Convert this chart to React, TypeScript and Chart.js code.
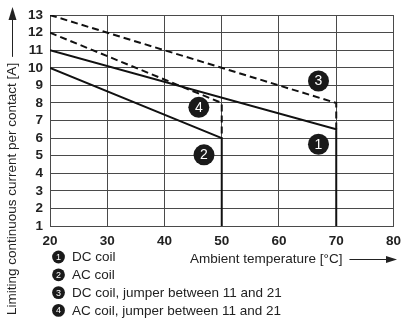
import React, { useEffect, useRef } from 'react';
import { Chart, registerables } from 'chart.js';

Chart.register(...registerables);

const xTickValues = [20, 30, 40, 50, 60, 70, 80];
const yTickValues = [1, 2, 3, 4, 5, 6, 7, 8, 9, 10, 11, 12, 13];

// Curve 1: DC coil
const dcCoilX = [20, 70, 70];
const dcCoilY = [11, 6.5, 1];
// Curve 2: AC coil
const acCoilX = [20, 50, 50];
const acCoilY = [10, 6, 1];
// Curve 3: DC coil, jumper
const dcJumperX = [20, 70, 70];
const dcJumperY = [13, 8, 6.5];
// Curve 4: AC coil, jumper
const acJumperX = [20, 50, 50];
const acJumperY = [12, 8, 6];

const badgeNumbers = ['1', '2', '3', '4'];
const badgeX = [66.9, 46.9, 66.9, 46.0];
const badgeY = [5.65, 5.05, 9.25, 7.75];

const legendLabels = [
  'DC coil',
  'AC coil',
  'DC coil, jumper between 11 and 21',
  'AC coil, jumper between 11 and 21',
];

const xTitle = 'Ambient temperature [°C]';
const yTitle = 'Limiting continuous current per contact [A]';

const FONT = '"Liberation Sans", Arial, Helvetica, sans-serif';

const pts = (xs: number[], ys: number[]) => xs.map((x, i) => ({ x, y: ys[i] }));

function drawBadge(ctx: CanvasRenderingContext2D, cx: number, cy: number, r: number, label: string, fontPx: number) {
  ctx.save();
  ctx.beginPath();
  ctx.arc(cx, cy, r, 0, Math.PI * 2);
  ctx.fillStyle = '#1a1a1a';
  ctx.fill();
  ctx.fillStyle = '#ffffff';
  ctx.font = `${fontPx}px ${FONT}`;
  ctx.textAlign = 'center';
  ctx.textBaseline = 'middle';
  ctx.fillText(label, cx, cy + 0.5);
  ctx.restore();
}

const decorPlugin = {
  id: 'decor',
  afterDraw(chart: any) {
    const ctx: CanvasRenderingContext2D = chart.ctx;
    const xs = chart.scales.x;
    const ys = chart.scales.y;
    badgeNumbers.forEach((n, i) => {
      drawBadge(ctx, xs.getPixelForValue(badgeX[i]), ys.getPixelForValue(badgeY[i]), 10.5, n, 14);
    });

    ctx.save();
    ctx.fillStyle = '#222';
    ctx.strokeStyle = '#222';
    ctx.font = `13.5px ${FONT}`;
    ctx.textBaseline = 'middle';

    // x title + arrow
    const xtX = 190;
    const xtY = 259;
    ctx.textAlign = 'left';
    ctx.fillText(xTitle, xtX, xtY);
    const xw = ctx.measureText(xTitle).width;
    ctx.lineWidth = 1;
    ctx.beginPath();
    ctx.moveTo(xtX + xw + 7, xtY + 0.5);
    ctx.lineTo(388, xtY + 0.5);
    ctx.stroke();
    ctx.beginPath();
    ctx.moveTo(397, xtY + 0.5);
    ctx.lineTo(386, xtY - 3);
    ctx.lineTo(386, xtY + 4);
    ctx.closePath();
    ctx.fill();

    // y title + arrow
    const ytX = 12;
    const ytY = 315;
    ctx.save();
    ctx.translate(ytX, ytY);
    ctx.rotate(-Math.PI / 2);
    ctx.textAlign = 'left';
    ctx.fillText(yTitle, 0, 0);
    ctx.restore();
    const yw = ctx.measureText(yTitle).width;
    ctx.beginPath();
    ctx.moveTo(ytX + 0.5, ytY - yw - 6);
    ctx.lineTo(ytX + 0.5, 18);
    ctx.stroke();
    ctx.beginPath();
    ctx.moveTo(ytX + 0.5, 7);
    ctx.lineTo(ytX - 3.5, 20);
    ctx.lineTo(ytX + 4.5, 20);
    ctx.closePath();
    ctx.fill();

    // legend
    legendLabels.forEach((t, i) => {
      const cy = 257 + i * 17.8;
      drawBadge(ctx, 58.5, cy, 6.4, badgeNumbers[i], 9);
      ctx.fillStyle = '#222';
      ctx.font = `13.5px ${FONT}`;
      ctx.textAlign = 'left';
      ctx.textBaseline = 'middle';
      ctx.fillText(t, 72, cy + 0.5);
    });
    ctx.restore();
  },
};

export default function App() {
  const canvasRef = useRef<HTMLCanvasElement | null>(null);

  useEffect(() => {
    document.body.style.margin = '0';
    const canvas = canvasRef.current;
    if (!canvas) return;
    const lineBase = {
      borderColor: '#111',
      borderWidth: 2,
      pointRadius: 0,
      fill: false,
      tension: 0,
    };
    const chart = new Chart(canvas, {
      type: 'line',
      data: {
        datasets: [
          { ...lineBase, label: legendLabels[0], data: pts(dcCoilX, dcCoilY) },
          { ...lineBase, label: legendLabels[1], data: pts(acCoilX, acCoilY) },
          { ...lineBase, label: legendLabels[2], data: pts(dcJumperX, dcJumperY), borderDash: [7, 4] },
          { ...lineBase, label: legendLabels[3], data: pts(acJumperX, acJumperY), borderDash: [7, 4] },
        ],
      },
      options: {
        animation: false,
        responsive: false,
        maintainAspectRatio: false,
        layout: { padding: { left: 0, top: 9, right: 12, bottom: 0 } },
        plugins: { legend: { display: false }, tooltip: { enabled: false }, title: { display: false } },
        scales: {
          x: {
            type: 'linear',
            min: 20,
            max: 80,
            afterBuildTicks: (s: any) => {
              s.ticks = xTickValues.map((v) => ({ value: v }));
            },
            afterFit: (s: any) => {
              s.height = 97;
            },
            grid: { color: '#4a4a4a', lineWidth: 1, drawTicks: false },
            border: { color: '#4a4a4a', width: 1 },
            ticks: {
              padding: 7,
              autoSkip: false,
              color: '#222',
              font: { family: FONT, size: 13.5, weight: 'bold' },
              maxRotation: 0,
            },
          },
          y: {
            type: 'linear',
            min: 1,
            max: 13,
            afterBuildTicks: (s: any) => {
              s.ticks = yTickValues.map((v) => ({ value: v }));
            },
            afterFit: (s: any) => {
              s.width = 50;
            },
            grid: { color: '#4a4a4a', lineWidth: 1, drawTicks: false },
            border: { color: '#4a4a4a', width: 1 },
            ticks: {
              padding: 7,
              autoSkip: false,
              color: '#222',
              font: { family: FONT, size: 13.5, weight: 'bold' },
            },
          },
        },
      } as any,
      plugins: [decorPlugin],
    });
    return () => chart.destroy();
  }, []);

  return (
    <div style={{ width: 408, height: 323, background: '#fff' }}>
      <canvas ref={canvasRef} width={408} height={323} style={{ display: 'block' }} />
    </div>
  );
}
